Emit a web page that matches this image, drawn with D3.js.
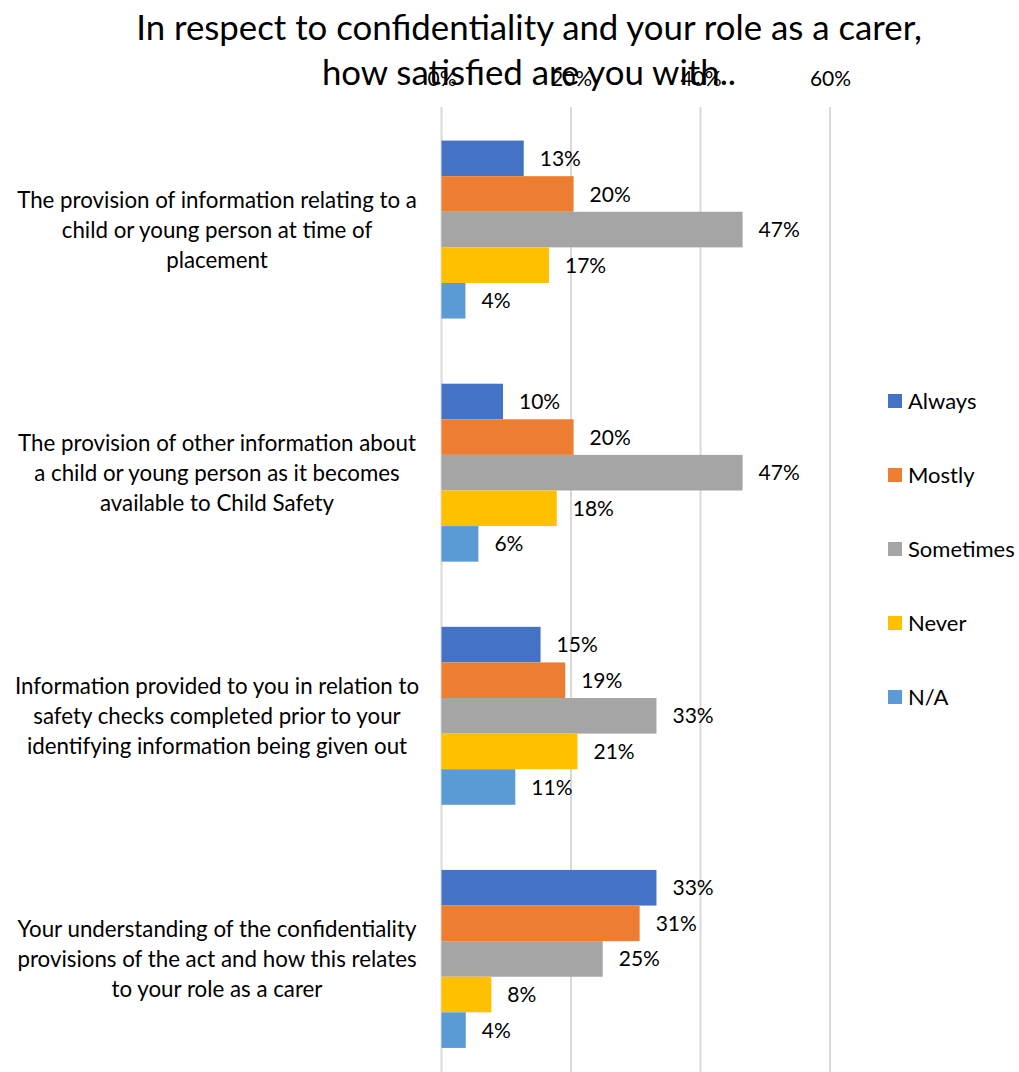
<!DOCTYPE html>
<html>
<head>
<meta charset="utf-8">
<script src="https://cdn.jsdelivr.net/npm/d3@7"></script>
<style>
  html, body { margin: 0; padding: 0; background: #fff; }
  svg { display: block; }
  text { font-family: Lato, "Open Sans", sans-serif; fill: #000; }
</style>
</head>
<body>
<div id="chart"></div>
<script>
// ---- Data ----
const titleLines = ["In respect to confidentiality and your role as a carer,", "how satisfied are you with.."];
const categories = [
  "The provision of information relating to a child or young person at time of placement",
  "The provision of other information about a child or young person as it becomes available to Child Safety",
  "Information provided to you in relation to safety checks completed prior to your identifying information being given out",
  "Your understanding of the confidentiality provisions of the act and how this relates to your role as a carer"
];
const categoryLines = [
  ["The provision of information relating to a", "child or young person at time of", "placement"],
  ["The provision of other information about", "a child or young person as it becomes", "available to Child Safety"],
  ["Information provided to you in relation to", "safety checks completed prior to your", "identifying information being given out"],
  ["Your understanding of the confidentiality", "provisions of the act and how this relates", "to your role as a carer"]
];
const seriesNames = ["Always", "Mostly", "Sometimes", "Never", "N/A"];
const seriesColors = ["#4472c4", "#ed7d31", "#a5a5a5", "#ffc000", "#5b9bd5"];
const always    = [12.7,  9.5, 15.3, 33.2];
const mostly    = [20.4, 20.4, 19.1, 30.6];
const sometimes = [46.5, 46.5, 33.2, 24.9];
const never     = [16.6, 17.8, 21.0,  7.7];
const na        = [ 3.7,  5.7, 11.4,  3.75];
const seriesValues = [always, mostly, sometimes, never, na];
const tickValues = [0, 20, 40, 60];
const tickLabels = ["0%", "20%", "40%", "60%"];

// ---- Layout ----
const W = 1019, H = 1072;
const svg = d3.select("#chart").append("svg").attr("width", W).attr("height", H);

const x = d3.scaleLinear().domain([0, 60]).range([441.5, 830]);
const y = d3.scaleBand().domain(d3.range(categories.length)).range([108, 1080.5])
  .paddingInner(0.268).paddingOuter(0.134);
const ySub = d3.scaleBand().domain(d3.range(seriesNames.length)).range([0, y.bandwidth()]).padding(0);

// gridlines
svg.append("g").selectAll("line").data(tickValues).join("line")
  .attr("x1", d => x(d)).attr("x2", d => x(d))
  .attr("y1", 107).attr("y2", H)
  .attr("stroke", "#d9d9d9").attr("stroke-width", 2);

// axis on top
const axis = d3.axisTop(x).tickValues(tickValues).tickFormat((d, i) => tickLabels[i]).tickSize(0).tickPadding(0);
const axG = svg.append("g").attr("transform", "translate(0,86)").call(axis);
axG.select(".domain").remove();
axG.selectAll("text").attr("dy", 0).style("font-size", "21px").style("font-family", "Lato, sans-serif").attr("fill", "#000");

// title (drawn after axis labels, overlapping them as in the reference)
const title = svg.append("text").attr("x", 529).attr("text-anchor", "middle").style("font-size", "34.8px");
titleLines.forEach((t, i) => title.append("tspan").attr("x", 529).attr("y", 40 + i * 45).text(t));

// bars
const groups = svg.append("g").selectAll("g").data(categories).join("g")
  .attr("transform", (d, i) => `translate(0,${y(i)})`);

groups.each(function(c, ci) {
  const g = d3.select(this);
  const vals = seriesValues.map((arr, si) => ({ si, v: arr[ci] }));
  g.selectAll("rect").data(vals).join("rect")
    .attr("x", x(0))
    .attr("y", d => ySub(d.si))
    .attr("width", d => x(d.v) - x(0))
    .attr("height", ySub.bandwidth())
    .attr("fill", d => seriesColors[d.si]);
  g.selectAll("text.lbl").data(vals).join("text").attr("class", "lbl")
    .attr("x", d => x(d.v) + 16)
    .attr("y", d => ySub(d.si) + ySub.bandwidth() / 2)
    .attr("dy", "0.36em")
    .style("font-size", "21px")
    .text(d => Math.round(d.v) + "%");
});

// category labels
const catG = svg.append("g");
categoryLines.forEach((lines, ci) => {
  const cy = y(ci) + y.bandwidth() / 2;
  const t = catG.append("text").attr("text-anchor", "middle").style("font-size", "22.3px");
  lines.forEach((ln, li) => {
    t.append("tspan").attr("x", 217)
      .attr("y", cy + (li - (lines.length - 1) / 2) * 30)
      .attr("dy", "0.36em").text(ln);
  });
});

// legend
const leg = svg.append("g").selectAll("g").data(seriesNames).join("g")
  .attr("transform", (d, i) => `translate(888,${401 + i * 74})`);
leg.append("rect").attr("x", 0).attr("y", -7).attr("width", 14).attr("height", 14)
  .attr("fill", (d, i) => seriesColors[i]);
leg.append("text").attr("x", 20).attr("y", 0).attr("dy", "0.36em")
  .style("font-size", "22px").text(d => d);
</script>
</body>
</html>
